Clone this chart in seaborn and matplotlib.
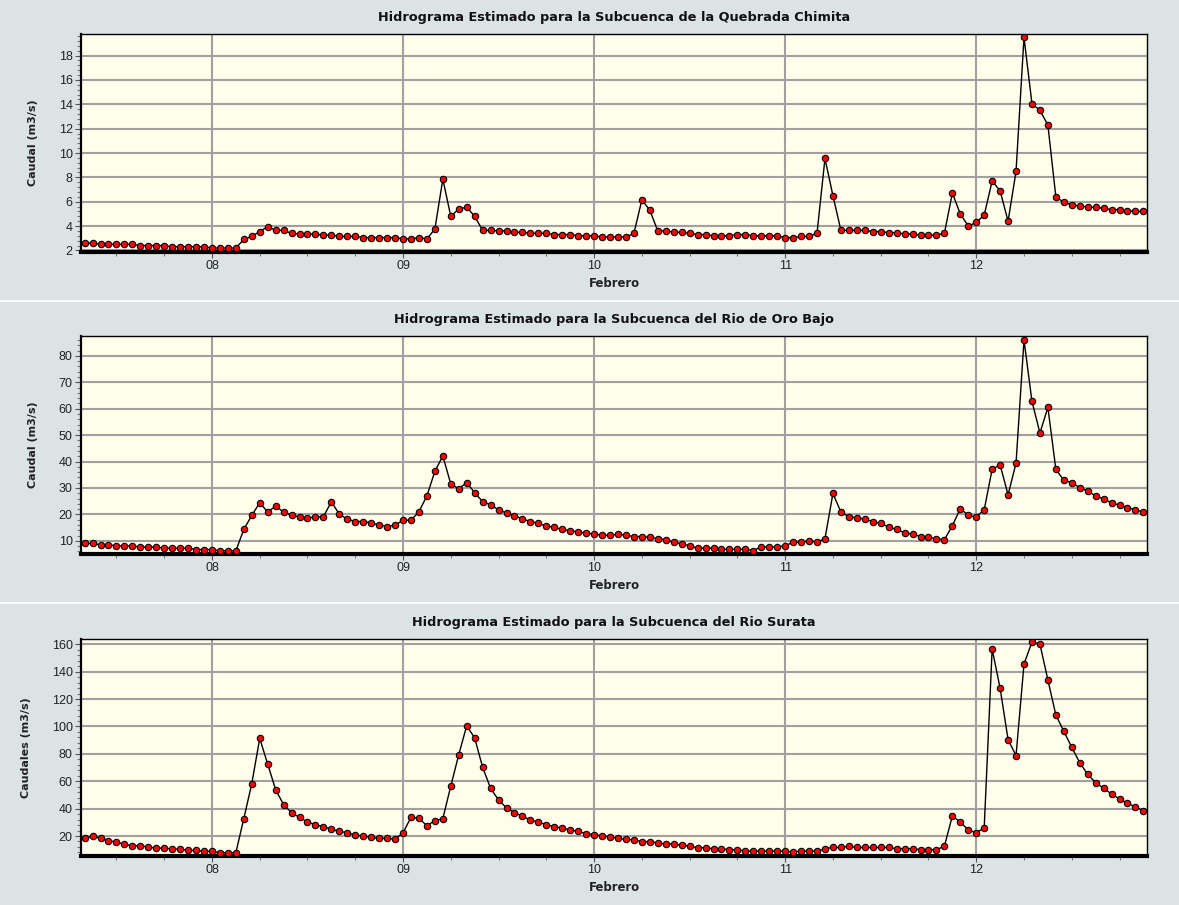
import numpy as np
import pandas as pd
import matplotlib
matplotlib.use("Agg")
import matplotlib.pyplot as plt
import matplotlib.dates as mdates
from matplotlib.ticker import AutoMinorLocator, MultipleLocator
from matplotlib.lines import Line2D
import seaborn as sns

# ---------------- data (hourly, 07-Feb 08:00 .. 12-Feb 21:00) ----------------
start_time = "2010-02-07 08:00"
n_hours = 134

chimita = [
    # 07 08h-23h
    2.6, 2.6, 2.5, 2.5, 2.5, 2.5, 2.5, 2.4, 2.4, 2.4, 2.4, 2.3, 2.3, 2.3, 2.3, 2.3,
    # 08
    2.2, 2.2, 2.2, 2.2, 2.9, 3.15, 3.55, 3.95, 3.65, 3.65, 3.4, 3.35, 3.35, 3.35, 3.25, 3.25,
    3.15, 3.15, 3.15, 3.05, 3.05, 3.05, 3.05, 3.05,
    # 09
    2.95, 2.95, 3.05, 2.95, 3.75, 7.85, 4.8, 5.4, 5.55, 4.8, 3.65, 3.65, 3.6, 3.6, 3.5, 3.5,
    3.4, 3.4, 3.4, 3.3, 3.3, 3.3, 3.2, 3.2,
    # 10
    3.2, 3.1, 3.1, 3.1, 3.1, 3.4, 6.15, 5.3, 3.6, 3.6, 3.5, 3.5, 3.4, 3.3, 3.3, 3.2,
    3.2, 3.2, 3.3, 3.3, 3.2, 3.2, 3.2, 3.2,
    # 11
    3.05, 3.05, 3.15, 3.15, 3.4, 9.55, 6.5, 3.65, 3.65, 3.65, 3.65, 3.55, 3.55, 3.45, 3.45, 3.35,
    3.35, 3.25, 3.25, 3.25, 3.4, 6.7, 5.0, 4.0,
    # 12 00h-21h
    4.3, 4.9, 7.7, 6.9, 4.4, 8.5, 19.5, 14.05, 13.5, 12.3, 6.4, 5.95, 5.75, 5.65, 5.55, 5.55,
    5.45, 5.35, 5.35, 5.25, 5.2, 5.2,
]

oro_bajo = [
    # 07
    9.0, 9.0, 8.5, 8.5, 8.1, 8.1, 8.1, 7.6, 7.6, 7.6, 7.2, 7.2, 7.2, 7.2, 6.7, 6.7,
    # 08
    6.7, 6.2, 6.2, 6.2, 14.3, 19.6, 24.4, 20.9, 23.1, 20.9, 19.6, 19.1, 18.6, 19.1, 19.1, 24.8,
    20.0, 18.2, 17.3, 17.3, 16.8, 15.9, 15.4, 15.9,
    # 09
    17.8, 17.8, 21.0, 27.0, 36.3, 42.1, 31.5, 29.7, 32.0, 28.2, 24.8, 23.6, 21.7, 20.5, 19.5, 18.3,
    17.3, 16.6, 15.6, 15.1, 14.3, 13.8, 13.4, 12.9,
    # 10
    12.5, 12.1, 12.1, 12.5, 12.1, 11.6, 11.6, 11.3, 10.8, 10.4, 9.4, 8.9, 8.1, 7.2, 7.2, 7.2,
    6.8, 6.8, 6.8, 6.8, 6.3, 7.7, 7.7, 7.7,
    # 11
    8.1, 9.5, 9.5, 10.0, 9.5, 10.8, 27.9, 20.9, 19.1, 18.7, 18.2, 17.3, 16.6, 15.2, 14.3, 13.0,
    12.5, 11.6, 11.3, 10.8, 10.4, 15.7, 22.2, 19.6,
    # 12
    19.1, 21.7, 37.1, 38.7, 27.4, 39.4, 86.0, 62.8, 50.8, 60.5, 37.1, 32.9, 32.0, 30.1, 28.8, 27.0,
    25.8, 24.4, 23.5, 22.6, 21.7, 20.9,
]

surata = [
    # 07
    18.3, 20.0, 18.3, 16.6, 15.6, 13.9, 12.9, 12.9, 12.0, 11.2, 11.2, 10.5, 10.5, 9.5, 9.5, 8.8,
    # 08
    8.8, 7.8, 7.8, 7.8, 32.7, 58.2, 91.3, 72.6, 53.8, 42.9, 37.0, 33.6, 30.2, 28.3, 26.8, 24.9,
    23.4, 22.4, 20.7, 20.0, 19.0, 18.3, 18.3, 17.6,
    # 09
    22.4, 33.6, 32.9, 27.5, 31.2, 32.7, 56.5, 79.4, 100.6, 91.6, 70.2, 54.8, 46.3, 40.5, 37.0, 34.4,
    31.7, 30.2, 28.3, 26.8, 25.8, 24.4, 23.4, 21.7,
    # 10
    21.0, 20.0, 19.3, 18.3, 17.6, 17.1, 15.9, 15.9, 14.9, 14.2, 14.2, 13.2, 12.5, 11.5, 11.5, 10.7,
    10.7, 10.0, 10.0, 9.0, 9.0, 9.0, 9.0, 9.0,
    # 11
    9.0, 8.3, 9.0, 9.0, 9.0, 10.7, 11.7, 11.7, 12.5, 11.7, 11.7, 11.7, 11.7, 11.7, 10.7, 10.7,
    10.7, 10.0, 10.0, 10.0, 12.5, 34.6, 30.2, 24.4,
    # 12
    22.4, 25.8, 156.6, 127.9, 90.4, 78.7, 145.6, 161.7, 160.2, 134.0, 108.4, 96.5, 84.8, 73.6, 65.0, 59.0,
    54.8, 50.7, 47.0, 43.9, 41.2, 38.5,
]

titles = [
    "Hidrograma Estimado para la Subcuenca de la Quebrada Chimita",
    "Hidrograma Estimado para la Subcuenca del Rio de Oro Bajo",
    "Hidrograma Estimado para la Subcuenca del Rio Surata",
]
ylabels = ["Caudal (m3/s)", "Caudal (m3/s)", "Caudales (m3/s)"]
xlabel = "Febrero"
ylims = [(1.87, 19.8), (5.0, 87.4), (5.4, 163.9)]
ysteps = [2, 10, 20]

# ---------------- style ----------------
sns.set_theme(style="white")
plt.rcParams["font.family"] = ["Liberation Sans", "DejaVu Sans"]

bg = "#dce3e5"
face = "#fefeea"
gridc = "#a0a0a0"
label_font = ["DejaVu Sans", "Liberation Sans"]

fig = plt.figure(figsize=(11.79, 9.05), dpi=100, facecolor=bg)
W, H = 1179, 905
left_px, right_px = 81, 1147
panels_px = [(33.7, 252.0), (336.3, 554.0), (639.0, 856.0)]

times = pd.date_range(start_time, periods=n_hours, freq="h")
series = [chimita, oro_bajo, surata]
pad = pd.Timedelta(minutes=27)

for i, (top, bot) in enumerate(panels_px):
    ax = fig.add_axes([left_px / W, 1 - bot / H, (right_px - left_px) / W, (bot - top) / H])
    ax.set_facecolor(face)
    df = pd.DataFrame({"t": times, "q": series[i]})
    sns.lineplot(data=df, x="t", y="q", ax=ax, color="black", linewidth=1.0,
                 marker="o", markersize=4.6, markerfacecolor="#ff0000",
                 markeredgecolor="black", markeredgewidth=0.8, zorder=3)
    ax.set_xlim(times[0] - pad, times[-1] + pad)
    ax.set_ylim(*ylims[i])
    ax.yaxis.set_major_locator(MultipleLocator(ysteps[i]))
    ax.yaxis.set_minor_locator(AutoMinorLocator(5))
    ax.xaxis.set_major_locator(mdates.DayLocator())
    ax.xaxis.set_major_formatter(mdates.DateFormatter("%d"))
    ax.xaxis.set_minor_locator(mdates.HourLocator(byhour=[6, 12, 18]))
    ax.grid(True, which="major", color=gridc, linewidth=1.5, zorder=0)
    ax.set_axisbelow(True)
    for s in ["top", "right"]:
        ax.spines[s].set_linewidth(1.0)
        ax.spines[s].set_color("black")
    ax.spines["left"].set_linewidth(1.6)
    ax.spines["left"].set_color("black")
    ax.spines["bottom"].set_linewidth(3.0)
    ax.spines["bottom"].set_color("black")
    ax.tick_params(axis="both", which="major", direction="out", length=4, width=0.8,
                   colors="#555555", labelcolor="#222222", labelsize=9, pad=2)
    ax.tick_params(axis="both", which="minor", direction="out", length=3, width=0.8,
                   colors="#777777")
    ax.tick_params(axis="x", which="both", bottom=True)
    ax.tick_params(axis="y", which="both", left=True)
    ax.set_title(titles[i], fontsize=9.3, fontweight="bold", color="#111111", pad=9.5,
                 family=label_font)
    ax.set_xlabel(xlabel, fontsize=8.4, fontweight="bold", color="#222222", labelpad=3.5,
                  family=label_font)
    ax.set_ylabel(ylabels[i], fontsize=8, fontweight="bold", color="#222222", labelpad=15,
                  family=label_font)

# separator lines between the three panels
for ysep in [301.5, 603.0]:
    fig.add_artist(Line2D([0, 1], [1 - ysep / H, 1 - ysep / H], color="white",
                          linewidth=1.2, transform=fig.transFigure))

fig.savefig("out.png", dpi=100, facecolor=bg)
